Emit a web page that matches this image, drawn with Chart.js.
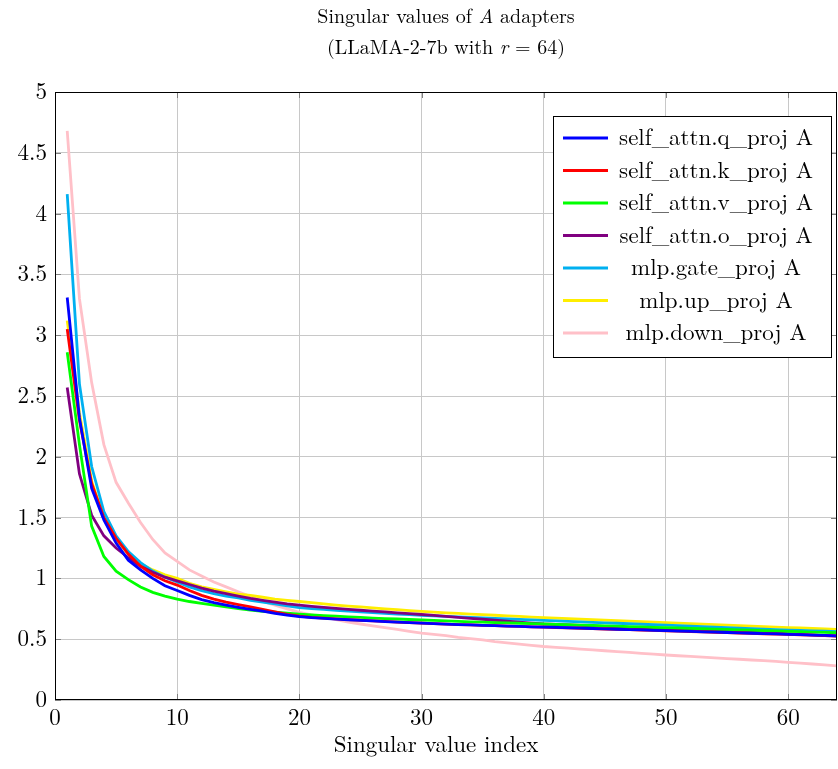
<!DOCTYPE html>
<html>
<head>
<meta charset="utf-8">
<script src="https://cdn.jsdelivr.net/npm/chart.js@4.4.1/dist/chart.umd.min.js"></script>
<style>
  html, body { margin: 0; padding: 0; background: #ffffff; }
  #box { width: 838px; height: 769px; }
</style>
</head>
<body>
<div id="box"><canvas id="grafico"></canvas></div>
<script>
// 1. DATA
const indices = Array.from({ length: 64 }, (_, i) => i + 1);

const seriesNames = [
    'self_attn.q_proj A', 'self_attn.k_proj A', 'self_attn.v_proj A', 'self_attn.o_proj A',
    'mlp.gate_proj A', 'mlp.up_proj A', 'mlp.down_proj A'
];
const seriesColors = ['#0000ff', '#ff0000', '#00ff00', '#800080', '#00b0f0', '#ffee00', '#ffc0c8'];

const qProj = [3.31, 2.32, 1.74, 1.48, 1.29, 1.15, 1.07, 1.00, 0.94, 0.90,
    0.86, 0.825, 0.80, 0.78, 0.762, 0.745, 0.73, 0.712, 0.698, 0.685,
    0.677, 0.671, 0.665, 0.66, 0.655, 0.65, 0.645, 0.64, 0.636, 0.632,
    0.628, 0.624, 0.62, 0.617, 0.614, 0.611, 0.608, 0.605, 0.602, 0.60,
    0.597, 0.594, 0.591, 0.588, 0.585, 0.582, 0.579, 0.576, 0.573, 0.57,
    0.567, 0.564, 0.561, 0.558, 0.555, 0.552, 0.549, 0.546, 0.543, 0.54,
    0.537, 0.534, 0.531, 0.528];
const kProj = [3.05, 2.30, 1.78, 1.50, 1.33, 1.20, 1.10, 1.03, 0.98, 0.945,
    0.90, 0.86, 0.83, 0.805, 0.785, 0.765, 0.745, 0.725, 0.705, 0.69,
    0.68, 0.673, 0.667, 0.661, 0.656, 0.651, 0.646, 0.641, 0.636, 0.632,
    0.628, 0.624, 0.62, 0.617, 0.614, 0.611, 0.608, 0.605, 0.602, 0.599,
    0.596, 0.593, 0.59, 0.587, 0.584, 0.581, 0.578, 0.575, 0.572, 0.569,
    0.566, 0.563, 0.56, 0.557, 0.554, 0.551, 0.548, 0.545, 0.542, 0.539,
    0.536, 0.533, 0.53, 0.527];
const vProj = [2.86, 2.10, 1.43, 1.18, 1.06, 0.99, 0.93, 0.885, 0.855, 0.83,
    0.81, 0.795, 0.78, 0.765, 0.752, 0.74, 0.73, 0.722, 0.714, 0.706,
    0.70, 0.694, 0.689, 0.684, 0.679, 0.674, 0.67, 0.666, 0.662, 0.658,
    0.654, 0.65, 0.646, 0.643, 0.64, 0.637, 0.634, 0.631, 0.628, 0.625,
    0.622, 0.619, 0.616, 0.613, 0.61, 0.607, 0.604, 0.601, 0.598, 0.595,
    0.592, 0.589, 0.586, 0.583, 0.58, 0.577, 0.574, 0.571, 0.568, 0.565,
    0.562, 0.559, 0.556, 0.553];
const oProj = [2.57, 1.86, 1.52, 1.35, 1.25, 1.17, 1.10, 1.05, 1.01, 0.98,
    0.95, 0.92, 0.895, 0.875, 0.855, 0.835, 0.82, 0.805, 0.79, 0.78,
    0.77, 0.762, 0.754, 0.746, 0.738, 0.731, 0.724, 0.717, 0.71, 0.703,
    0.696, 0.688, 0.68, 0.672, 0.664, 0.656, 0.648, 0.64, 0.632, 0.625,
    0.621, 0.617, 0.613, 0.609, 0.605, 0.601, 0.597, 0.593, 0.589, 0.585,
    0.581, 0.577, 0.573, 0.569, 0.565, 0.561, 0.557, 0.553, 0.549, 0.545,
    0.54, 0.535, 0.53, 0.525];
const gateProj = [4.16, 2.60, 1.92, 1.55, 1.35, 1.22, 1.13, 1.06, 1.01, 0.97,
    0.93, 0.90, 0.875, 0.855, 0.84, 0.82, 0.805, 0.79, 0.775, 0.76,
    0.752, 0.745, 0.738, 0.731, 0.725, 0.719, 0.713, 0.707, 0.702, 0.697,
    0.692, 0.687, 0.683, 0.679, 0.675, 0.671, 0.667, 0.663, 0.659, 0.655,
    0.651, 0.647, 0.643, 0.639, 0.635, 0.631, 0.627, 0.623, 0.619, 0.615,
    0.611, 0.607, 0.603, 0.599, 0.595, 0.591, 0.587, 0.583, 0.579, 0.575,
    0.572, 0.569, 0.566, 0.563];
const upProj = [3.12, 2.36, 1.80, 1.50, 1.32, 1.20, 1.12, 1.07, 1.03, 1.00,
    0.96, 0.93, 0.91, 0.89, 0.87, 0.86, 0.845, 0.83, 0.82, 0.81,
    0.80, 0.79, 0.78, 0.772, 0.765, 0.758, 0.75, 0.743, 0.735, 0.728,
    0.722, 0.717, 0.712, 0.707, 0.702, 0.697, 0.692, 0.687, 0.682, 0.677,
    0.673, 0.669, 0.665, 0.661, 0.657, 0.652, 0.648, 0.644, 0.64, 0.636,
    0.632, 0.628, 0.624, 0.62, 0.616, 0.612, 0.608, 0.604, 0.60, 0.596,
    0.592, 0.588, 0.584, 0.58];
const downProj = [4.68, 3.30, 2.61, 2.10, 1.79, 1.62, 1.46, 1.32, 1.21, 1.14,
    1.07, 1.02, 0.97, 0.93, 0.89, 0.85, 0.81, 0.78, 0.75, 0.72,
    0.70, 0.68, 0.66, 0.64, 0.625, 0.61, 0.595, 0.58, 0.565, 0.55,
    0.54, 0.53, 0.515, 0.505, 0.495, 0.48, 0.47, 0.46, 0.45, 0.44,
    0.433, 0.426, 0.419, 0.412, 0.405, 0.398, 0.391, 0.384, 0.377, 0.37,
    0.364, 0.358, 0.352, 0.346, 0.34, 0.335, 0.329, 0.323, 0.317, 0.31,
    0.303, 0.296, 0.289, 0.28];

const allSeries = [qProj, kProj, vProj, oProj, gateProj, upProj, downProj];
const xTicks = [0, 10, 20, 30, 40, 50, 60];
const yTicks = [0, 0.5, 1, 1.5, 2, 2.5, 3, 3.5, 4, 4.5, 5];

const FONTE = '"Latin Modern Roman", "CMU Serif", "Liberation Serif", serif';

// 2. PLUGIN: title, axis label, frame and legend drawn like pgfplots
function textoMisto(ctx, partes, cx, y, tam) {
    let total = 0;
    partes.forEach(p => { ctx.font = p[1] + tam + 'px ' + FONTE; total += ctx.measureText(p[0]).width; });
    let xx = cx - total / 2;
    ctx.textAlign = 'left';
    partes.forEach(p => {
        ctx.font = p[1] + tam + 'px ' + FONTE;
        ctx.fillText(p[0], xx, y);
        xx += ctx.measureText(p[0]).width;
    });
}

const pgfDecor = {
    id: 'pgfDecor',
    afterDraw(chart) {
        const ctx = chart.ctx;
        const area = chart.chartArea;
        const cx = (area.left + area.right) / 2;
        ctx.save();
        ctx.fillStyle = '#000';
        ctx.textBaseline = 'middle';

        // title (two lines, A and r in italic)
        textoMisto(ctx, [['Singular values of ', ''], ['A', 'italic '], [' adapters', '']], cx, 17, 20);
        textoMisto(ctx, [['(LLaMA-2-7b with ', ''], ['r', 'italic '], [' = 64)', '']], cx, 48, 20);

        // x axis label
        ctx.textAlign = 'center';
        ctx.font = '23px ' + FONTE;
        ctx.fillText('Singular value index', cx - 10, 745);

        // little tick marks inside the frame
        const xs = chart.scales.x, ys = chart.scales.y;
        ctx.strokeStyle = '#808080';
        ctx.lineWidth = 1;
        xTicks.forEach(t => {
            const px = Math.round(xs.getPixelForValue(t)) + 0.5;
            ctx.beginPath();
            ctx.moveTo(px, area.bottom); ctx.lineTo(px, area.bottom - 6);
            ctx.moveTo(px, area.top); ctx.lineTo(px, area.top + 6);
            ctx.stroke();
        });
        yTicks.forEach(t => {
            const py = Math.round(ys.getPixelForValue(t)) + 0.5;
            ctx.beginPath();
            ctx.moveTo(area.left, py); ctx.lineTo(area.left + 6, py);
            ctx.moveTo(area.right, py); ctx.lineTo(area.right - 6, py);
            ctx.stroke();
        });

        // frame
        ctx.strokeStyle = '#000';
        ctx.lineWidth = 1;
        ctx.strokeRect(area.left + 0.5, area.top + 0.5, area.right - area.left - 1, area.bottom - area.top - 1);

        // legend box (north east)
        const lx = area.right - 284, ly = area.top + 24, lw = 278, lh = 241;
        ctx.fillStyle = '#fff';
        ctx.fillRect(lx, ly, lw, lh);
        ctx.strokeStyle = '#000';
        ctx.strokeRect(lx + 0.5, ly + 0.5, lw, lh);
        chart.data.datasets.forEach((ds, i) => {
            const yy = ly + 22 + i * 32.5;
            ctx.strokeStyle = ds.borderColor;
            ctx.lineWidth = 3;
            ctx.beginPath();
            ctx.moveTo(lx + 10, yy); ctx.lineTo(lx + 55, yy);
            ctx.stroke();
            ctx.fillStyle = '#000';
            ctx.font = '23px ' + FONTE;
            ctx.textAlign = 'center';
            ctx.fillText(ds.label, lx + 163, yy);
        });
        ctx.restore();
    }
};

// 3. CHART
function desenharGrafico() {
    const ctx = document.getElementById('grafico').getContext('2d');
    const datasets = allSeries.map((serie, i) => ({
        label: seriesNames[i],
        data: serie.map((v, k) => ({ x: indices[k], y: v })),
        borderColor: seriesColors[i],
        backgroundColor: seriesColors[i],
        borderWidth: 2.8,
        pointRadius: 0,
        tension: 0,
        fill: false
    }));

    new Chart(ctx, {
        type: 'line',
        data: { datasets: datasets },
        options: {
            responsive: true,
            maintainAspectRatio: false,
            animation: false,
            layout: { padding: { top: 92, right: 1, left: 0, bottom: 0 } },
            plugins: { legend: { display: false }, title: { display: false }, tooltip: { enabled: false } },
            scales: {
                x: {
                    type: 'linear', min: 0, max: 64,
                    afterBuildTicks: s => { s.ticks = xTicks.map(v => ({ value: v })); },
                    afterFit: s => { s.height = 69; },
                    grid: { color: '#c8c8c8', drawTicks: false },
                    border: { display: false },
                    ticks: { color: '#000', padding: 4, font: { family: FONTE, size: 23 }, callback: v => String(v) }
                },
                y: {
                    type: 'linear', min: 0, max: 5,
                    afterBuildTicks: s => { s.ticks = yTicks.map(v => ({ value: v })); },
                    afterFit: s => { s.width = 55; },
                    grid: { color: '#c8c8c8', drawTicks: false },
                    border: { display: false },
                    ticks: { color: '#000', padding: 8, font: { family: FONTE, size: 23 }, callback: v => String(v) }
                }
            }
        },
        plugins: [pgfDecor]
    });
}

window.onload = () => {
    desenharGrafico();
};
</script>
</body>
</html>
